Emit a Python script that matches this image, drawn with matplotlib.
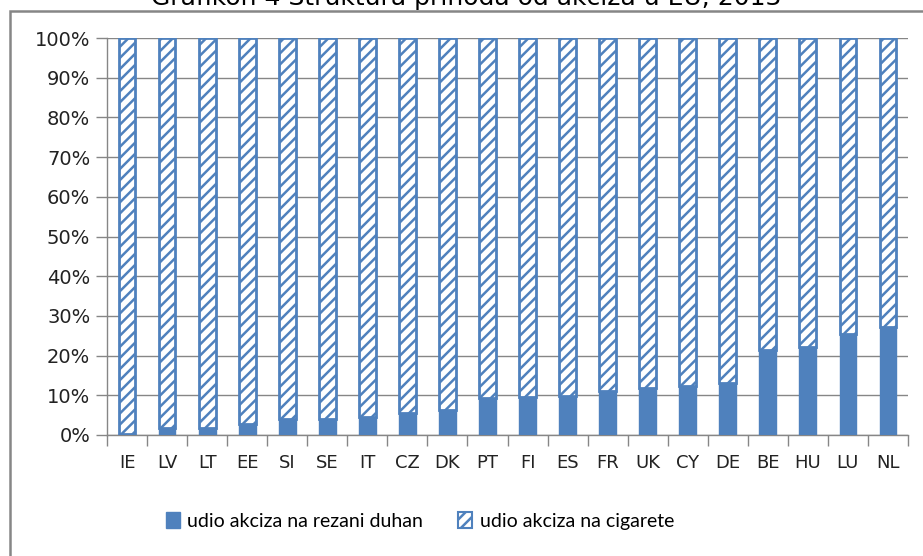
import matplotlib
matplotlib.use("Agg")
import matplotlib.pyplot as plt
from matplotlib.patches import Patch, Rectangle
import numpy as np

plt.rcParams['hatch.linewidth'] = 1.8

countries = ["IE", "LV", "LT", "EE", "SI", "SE", "IT", "CZ", "DK", "PT",
             "FI", "ES", "FR", "UK", "CY", "DE", "BE", "HU", "LU", "NL"]
rezani_duhan = [0.3, 1.8, 1.8, 2.8, 4.1, 4.1, 4.5, 5.6, 6.4, 9.2,
                9.5, 9.8, 11.2, 11.9, 12.4, 13.1, 21.5, 22.2, 25.4, 27.2]
cigarete = [100 - v for v in rezani_duhan]
yticks = list(range(0, 101, 10))
title = "Grafikon 4 Struktura prihoda od akciza u EU, 2013"
series_names = ["udio akciza na rezani duhan", "udio akciza na cigarete"]

blue = "#4F81BD"
gray = "#868686"

W, H = 923, 556
fig = plt.figure(figsize=(W / 100, H / 100), dpi=100)

# outer chart border
fig.patches.append(Rectangle((10 / W, -0.05), 1.0, 1 - 11 / H + 0.05,
                             transform=fig.transFigure, fill=False,
                             edgecolor=gray, linewidth=1.8, zorder=0))

ax = fig.add_axes([107 / W, 1 - 435 / H, (908 - 107) / W, (435 - 38) / H])
x = np.arange(len(countries))
bw = 0.42
ax.bar(x, rezani_duhan, width=bw, color=blue, edgecolor=blue, linewidth=1.0, zorder=3)
ax.bar(x, cigarete, width=bw, bottom=rezani_duhan, color="white", edgecolor=blue,
       hatch="///", linewidth=2.0, zorder=3)

ax.set_xlim(-0.5, len(countries) - 0.5)
ax.set_ylim(0, 100)
ax.set_yticks(yticks)
ax.set_yticklabels([f"{t}%" for t in yticks], fontsize=14, family="DejaVu Sans",
                   color="#222222")
ax.set_xticks(x)
ax.set_xticklabels(countries, fontsize=13, family="DejaVu Sans", color="#222222")
ax.set_xticks(np.arange(-0.5, len(countries), 1), minor=True)
ax.tick_params(axis="x", which="major", length=0, pad=14)
ax.tick_params(axis="x", which="minor", length=8, color=gray, width=1)
ax.tick_params(axis="y", length=8, color=gray, width=1, pad=4)
ax.yaxis.grid(True, color=gray, linewidth=1.0, zorder=0)
ax.set_axisbelow(True)
for s in ["top", "right"]:
    ax.spines[s].set_visible(False)
for s in ["left", "bottom"]:
    ax.spines[s].set_color(gray)
    ax.spines[s].set_linewidth(1.0)

fig.text(466 / W, 1 - 4.5 / H, title, ha="center", va="baseline", fontsize=18,
         family="DejaVu Sans")

handles = [Patch(facecolor=blue, edgecolor=blue, label=series_names[0]),
           Patch(facecolor="white", edgecolor=blue, hatch="///", linewidth=1.5,
                 label=series_names[1])]
fig.legend(handles=handles, loc="center", bbox_to_anchor=(420 / W, 1 - 521 / H),
           ncol=2, frameon=False, prop={"family": "Lato", "size": 14},
           handlelength=0.7, handleheight=0.9, handletextpad=0.4,
           columnspacing=1.8)

fig.savefig("out.png", dpi=100)
